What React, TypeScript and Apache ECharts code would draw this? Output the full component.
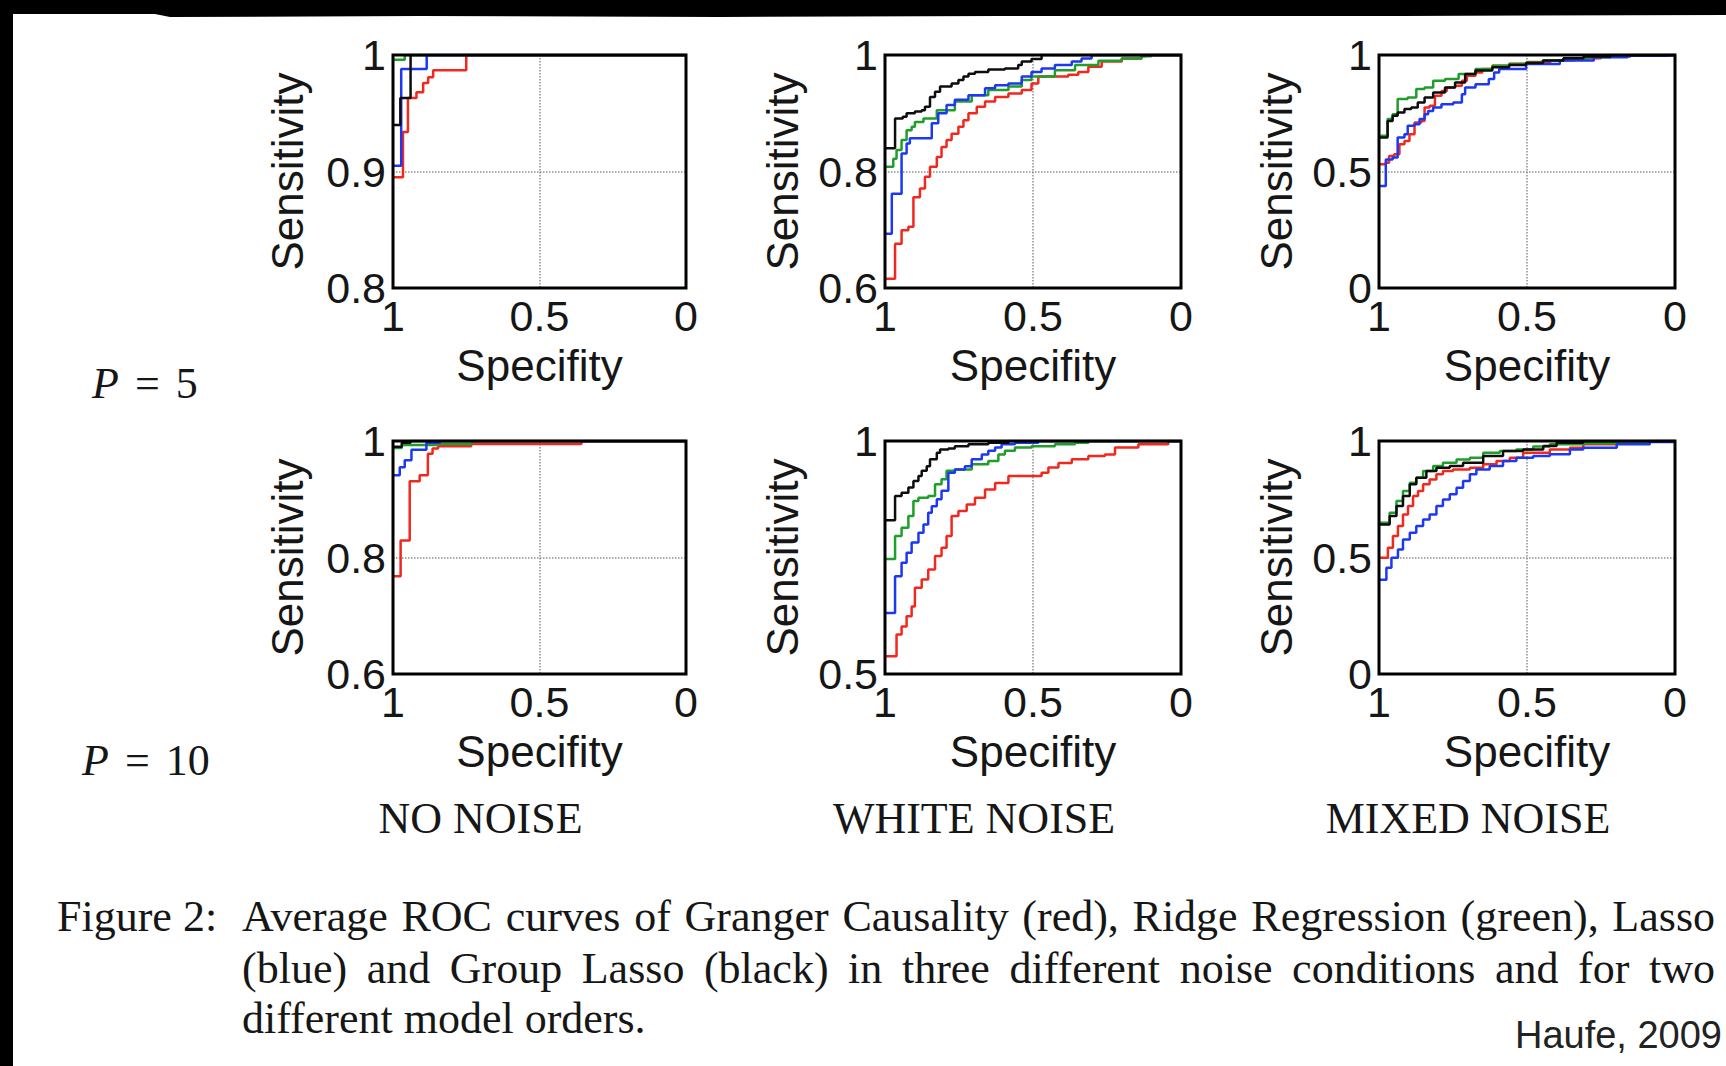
import React, { useEffect, useRef } from "react";
import * as echarts from "echarts";

// ---------------- data ----------------
const columnTitles = ["NO NOISE", "WHITE NOISE", "MIXED NOISE"];
const modelOrders = ["5", "10"];
const methodNames = ["Granger Causality", "Ridge Regression", "Lasso", "Group Lasso"];
const methodColors = ["#f0281e", "#1f9e2a", "#1c38f0", "#0d0d0d"];
const xAxisName = "Specifity";
const yAxisName = "Sensitivity";
const xMin = 0;
const xMax = 1;
const xInterval = 0.5;
const yAxisMin = [0.8, 0.6, 0, 0.6, 0.5, 0];
const yAxisInterval = [0.1, 0.2, 0.5, 0.2, 0.5, 0.5];

// P = 5, no noise  ([specificity, sensitivity])
const p5NoGC = [[1, 0.895], [0.966, 0.934], [0.949, 0.963], [0.92, 0.968], [0.897, 0.976], [0.88, 0.981], [0.863, 0.987], [0.75, 1], [0, 1]];
const p5NoRidge = [[1, 0.996], [0.96, 1], [0, 1]];
const p5NoLasso = [[1, 0.905], [0.972, 0.988], [0.885, 1], [0, 1]];
const p5NoGroup = [[1, 0.94], [0.975, 0.963], [0.94, 1], [0, 1]];

// P = 5, white noise
const p5WhiteGC = [[1, 0.616], [0.966, 0.676], [0.944, 0.699], [0.921, 0.705], [0.904, 0.756], [0.882, 0.771], [0.865, 0.791], [0.848, 0.808], [0.825, 0.825], [0.809, 0.842], [0.792, 0.854], [0.775, 0.865], [0.752, 0.877], [0.735, 0.888], [0.718, 0.9], [0.69, 0.911], [0.662, 0.92], [0.628, 0.928], [0.583, 0.934], [0.538, 0.94], [0.505, 0.951], [0.482, 0.963], [0.381, 0.966], [0.347, 0.971], [0.313, 0.98], [0.268, 0.989], [0.2, 0.994], [0.133, 0.998], [0.12, 1], [0, 1]];
const p5WhiteRidge = [[1, 0.808], [0.972, 0.822], [0.961, 0.837], [0.944, 0.854], [0.927, 0.871], [0.91, 0.877], [0.899, 0.885], [0.87, 0.891], [0.825, 0.905], [0.764, 0.92], [0.707, 0.931], [0.651, 0.94], [0.583, 0.946], [0.538, 0.957], [0.505, 0.963], [0.426, 0.974], [0.358, 0.983], [0.279, 0.99], [0.2, 0.994], [0.133, 0.998], [0.1, 1], [0, 1]];
const p5WhiteLasso = [[1, 0.693], [0.977, 0.762], [0.944, 0.831], [0.927, 0.848], [0.916, 0.857], [0.842, 0.883], [0.82, 0.9], [0.792, 0.914], [0.764, 0.923], [0.718, 0.931], [0.662, 0.943], [0.628, 0.948], [0.583, 0.951], [0.538, 0.963], [0.505, 0.971], [0.471, 0.977], [0.426, 0.983], [0.369, 0.989], [0.336, 0.994], [0.302, 1], [0, 1]];
const p5WhiteGroup = [[1, 0.84], [0.966, 0.891], [0.94, 0.894], [0.927, 0.9], [0.899, 0.903], [0.876, 0.905], [0.865, 0.911], [0.848, 0.928], [0.831, 0.937], [0.814, 0.946], [0.775, 0.951], [0.752, 0.957], [0.735, 0.963], [0.718, 0.968], [0.696, 0.971], [0.651, 0.975], [0.595, 0.977], [0.55, 0.983], [0.538, 0.989], [0.505, 0.993], [0.471, 1], [0, 1]];

// P = 5, mixed noise
const p5MixedGC = [[1, 0.531], [0.977, 0.538], [0.966, 0.567], [0.949, 0.574], [0.931, 0.617], [0.914, 0.631], [0.897, 0.66], [0.88, 0.71], [0.857, 0.717], [0.846, 0.775], [0.829, 0.782], [0.811, 0.825], [0.789, 0.846], [0.771, 0.861], [0.743, 0.868], [0.72, 0.89], [0.703, 0.911], [0.674, 0.925], [0.651, 0.94], [0.617, 0.954], [0.56, 0.962], [0.5, 0.97], [0.42, 0.978], [0.34, 0.986], [0.25, 0.994], [0.15, 1], [0, 1]];
const p5MixedRidge = [[1, 0.653], [0.971, 0.725], [0.954, 0.746], [0.937, 0.811], [0.903, 0.818], [0.874, 0.854], [0.846, 0.861], [0.817, 0.89], [0.777, 0.897], [0.731, 0.918], [0.674, 0.94], [0.617, 0.954], [0.56, 0.961], [0.503, 0.968], [0.446, 0.976], [0.377, 0.983], [0.297, 0.99], [0.217, 0.997], [0.15, 1], [0, 1]];
const p5MixedLasso = [[1, 0.438], [0.977, 0.552], [0.954, 0.56], [0.937, 0.646], [0.914, 0.66], [0.903, 0.696], [0.88, 0.703], [0.863, 0.725], [0.846, 0.746], [0.834, 0.76], [0.817, 0.775], [0.789, 0.789], [0.749, 0.796], [0.72, 0.832], [0.709, 0.861], [0.674, 0.875], [0.629, 0.897], [0.611, 0.925], [0.594, 0.94], [0.503, 0.961], [0.389, 0.976], [0.274, 0.99], [0.16, 0.997], [0.034, 1], [0, 1]];
const p5MixedGroup = [[1, 0.646], [0.971, 0.717], [0.954, 0.739], [0.937, 0.753], [0.914, 0.768], [0.891, 0.775], [0.869, 0.796], [0.846, 0.818], [0.817, 0.839], [0.777, 0.861], [0.743, 0.882], [0.709, 0.918], [0.674, 0.933], [0.617, 0.947], [0.56, 0.957], [0.503, 0.966], [0.446, 0.976], [0.377, 0.986], [0.309, 0.994], [0.217, 1], [0, 1]];

// P = 10, no noise
const p10NoGC = [[1, 0.768], [0.974, 0.829], [0.943, 0.931], [0.909, 0.941], [0.881, 0.978], [0.865, 0.987], [0.846, 0.991], [0.733, 0.995], [0.357, 1], [0, 1]];
const p10NoRidge = [[1, 0.988], [0.97, 0.993], [0.85, 0.995], [0.73, 1], [0, 1]];
const p10NoLasso = [[1, 0.941], [0.977, 0.955], [0.96, 0.967], [0.937, 0.985], [0.886, 0.997], [0.84, 1], [0, 1]];
const p10NoGroup = [[1, 0.99], [0.97, 0.997], [0.94, 1], [0, 1]];

// P = 10, white noise
const p10WhiteGC = [[1, 0.538], [0.961, 0.585], [0.944, 0.602], [0.927, 0.624], [0.91, 0.645], [0.899, 0.685], [0.876, 0.703], [0.854, 0.724], [0.831, 0.753], [0.809, 0.771], [0.792, 0.796], [0.775, 0.839], [0.752, 0.85], [0.724, 0.864], [0.696, 0.878], [0.662, 0.896], [0.628, 0.91], [0.583, 0.925], [0.471, 0.932], [0.448, 0.943], [0.414, 0.953], [0.369, 0.961], [0.313, 0.968], [0.257, 0.971], [0.223, 0.986], [0.144, 0.993], [0.043, 1], [0, 1]];
const p10WhiteRidge = [[1, 0.747], [0.966, 0.796], [0.944, 0.814], [0.921, 0.839], [0.904, 0.871], [0.887, 0.878], [0.854, 0.882], [0.831, 0.907], [0.809, 0.918], [0.792, 0.936], [0.764, 0.939], [0.707, 0.95], [0.651, 0.957], [0.617, 0.971], [0.595, 0.979], [0.561, 0.986], [0.505, 0.989], [0.426, 0.993], [0.358, 0.996], [0.313, 1], [0, 1]];
const p10WhiteLasso = [[1, 0.631], [0.966, 0.71], [0.944, 0.739], [0.927, 0.76], [0.91, 0.782], [0.887, 0.803], [0.87, 0.821], [0.854, 0.846], [0.842, 0.86], [0.825, 0.875], [0.809, 0.893], [0.786, 0.932], [0.764, 0.939], [0.73, 0.946], [0.707, 0.961], [0.673, 0.971], [0.651, 0.979], [0.628, 0.986], [0.606, 0.993], [0.561, 0.996], [0.482, 1], [0, 1]];
const p10WhiteGroup = [[1, 0.83], [0.966, 0.882], [0.944, 0.889], [0.921, 0.9], [0.904, 0.914], [0.887, 0.925], [0.876, 0.936], [0.859, 0.946], [0.848, 0.961], [0.825, 0.975], [0.814, 0.982], [0.786, 0.984], [0.764, 0.989], [0.718, 0.993], [0.651, 0.996], [0.583, 1], [0, 1]];

// P = 10, mixed noise
const p10MixedGC = [[1, 0.499], [0.97, 0.542], [0.953, 0.592], [0.936, 0.635], [0.919, 0.685], [0.902, 0.721], [0.885, 0.764], [0.868, 0.785], [0.851, 0.814], [0.829, 0.835], [0.806, 0.857], [0.784, 0.871], [0.75, 0.878], [0.693, 0.885], [0.648, 0.9], [0.603, 0.914], [0.558, 0.928], [0.513, 0.95], [0.423, 0.964], [0.355, 0.971], [0.31, 0.986], [0.197, 0.993], [0.085, 1], [0, 1]];
const p10MixedRidge = [[1, 0.649], [0.964, 0.692], [0.941, 0.742], [0.919, 0.785], [0.896, 0.821], [0.874, 0.842], [0.851, 0.871], [0.817, 0.893], [0.784, 0.907], [0.738, 0.921], [0.693, 0.928], [0.648, 0.95], [0.592, 0.957], [0.536, 0.964], [0.479, 0.976], [0.423, 0.986], [0.31, 0.99], [0.197, 0.993], [0.096, 1], [0, 1]];
const p10MixedLasso = [[1, 0.405], [0.975, 0.456], [0.958, 0.499], [0.936, 0.534], [0.919, 0.577], [0.896, 0.606], [0.874, 0.635], [0.851, 0.663], [0.829, 0.685], [0.806, 0.721], [0.784, 0.749], [0.761, 0.771], [0.738, 0.799], [0.716, 0.828], [0.693, 0.857], [0.671, 0.878], [0.626, 0.893], [0.581, 0.914], [0.536, 0.928], [0.479, 0.936], [0.423, 0.943], [0.355, 0.964], [0.31, 0.971], [0.197, 0.986], [0.085, 0.996], [0.006, 1], [0, 1]];
const p10MixedGroup = [[1, 0.642], [0.964, 0.678], [0.941, 0.721], [0.919, 0.764], [0.896, 0.814], [0.874, 0.842], [0.84, 0.871], [0.806, 0.885], [0.761, 0.893], [0.716, 0.907], [0.648, 0.936], [0.581, 0.957], [0.513, 0.964], [0.445, 0.979], [0.4, 0.993], [0.31, 1], [0, 1]];

// panels in reading order; each holds the four methods in methodNames order
const panelCurves = [
  [p5NoGC, p5NoRidge, p5NoLasso, p5NoGroup],
  [p5WhiteGC, p5WhiteRidge, p5WhiteLasso, p5WhiteGroup],
  [p5MixedGC, p5MixedRidge, p5MixedLasso, p5MixedGroup],
  [p10NoGC, p10NoRidge, p10NoLasso, p10NoGroup],
  [p10WhiteGC, p10WhiteRidge, p10WhiteLasso, p10WhiteGroup],
  [p10MixedGC, p10MixedRidge, p10MixedLasso, p10MixedGroup],
];

const captionLabel = "Figure 2:";
const captionLines = [
  "Average ROC curves of Granger Causality (red), Ridge Regression (green), Lasso",
  "(blue) and Group Lasso (black) in three different noise conditions and for two",
  "different model orders.",
];
const creditText = "Haufe, 2009";

// ---------------- layout ----------------
const W = 1726;
const H = 1066;
const gridLefts = [393, 885, 1379];
const gridWidths = [293, 296, 296];
const gridTops = [55, 441];
const gridHeight = 233;
const yNameGaps = [84, 81, 81];
const TICK_FS = 43;
const NAME_FS = 44;
const SANS = '"Liberation Sans", Arial, Helvetica, sans-serif';
const SERIF = '"Liberation Serif", "Times New Roman", serif';
const TXT = "#161616";

function buildCaption(): any[] {
  const fontSize = 44;
  const font = `${fontSize}px "Liberation Serif"`;
  const ctx = document.createElement("canvas").getContext("2d") as CanvasRenderingContext2D;
  ctx.font = font;
  const els: any[] = [];
  const left = 242;
  const right = 1715;
  const ys = [916, 968, 1018];
  const txt = (text: string, x: number, y: number) => ({
    type: "text",
    x,
    y,
    silent: true,
    style: { text, fill: TXT, fontSize, fontFamily: SERIF, align: "left", verticalAlign: "middle" },
  });
  els.push(txt(captionLabel, 57, ys[0]));
  captionLines.forEach((line, li) => {
    if (li === captionLines.length - 1) {
      els.push(txt(line, left, ys[li]));
      return;
    }
    const words = line.split(" ");
    const widths = words.map((w) => ctx.measureText(w).width);
    const total = widths.reduce((a, b) => a + b, 0);
    const gap = (right - left - total) / (words.length - 1);
    let x = left;
    words.forEach((w, i) => {
      els.push(txt(w, x, ys[li]));
      x += widths[i] + gap;
    });
  });
  return els;
}

function buildOption(): any {
  const grids: any[] = [];
  const xAxes: any[] = [];
  const yAxes: any[] = [];
  const series: any[] = [];
  panelCurves.forEach((curves, p) => {
    const row = Math.floor(p / 3);
    const col = p % 3;
    grids.push({
      left: gridLefts[col],
      top: gridTops[row],
      width: gridWidths[col],
      height: gridHeight,
      show: true,
      z: 5,
      backgroundColor: "transparent",
      borderColor: "#000",
      borderWidth: 3,
      containLabel: false,
    });
    xAxes.push({
      type: "value",
      gridIndex: p,
      min: xMin,
      max: xMax,
      interval: xInterval,
      inverse: true,
      name: xAxisName,
      nameLocation: "middle",
      nameGap: 55,
      nameTextStyle: { fontSize: NAME_FS, fontFamily: SANS, color: TXT, lineHeight: NAME_FS },
      axisLine: { show: false },
      axisTick: { show: false },
      axisLabel: { fontSize: TICK_FS, fontFamily: SANS, color: TXT, margin: 6, lineHeight: TICK_FS },
      splitLine: { show: true, lineStyle: { type: "dotted", color: "#8f8f8f", width: 1.5 } },
    });
    yAxes.push({
      type: "value",
      gridIndex: p,
      min: yAxisMin[p],
      max: 1,
      interval: yAxisInterval[p],
      name: yAxisName,
      nameLocation: "middle",
      nameGap: yNameGaps[col],
      nameRotate: 90,
      nameTextStyle: { fontSize: NAME_FS, fontFamily: SANS, color: TXT, lineHeight: NAME_FS },
      axisLine: { show: false },
      axisTick: { show: false },
      axisLabel: { fontSize: TICK_FS, fontFamily: SANS, color: TXT, margin: 7 },
      splitLine: { show: true, lineStyle: { type: "dotted", color: "#8f8f8f", width: 1.5 } },
    });
    curves.forEach((data, m) => {
      series.push({
        type: "line",
        name: methodNames[m],
        xAxisIndex: p,
        yAxisIndex: p,
        data,
        step: "end",
        showSymbol: false,
        symbol: "none",
        silent: true,
        z: 2 + m * 0.1,
        lineStyle: { color: methodColors[m], width: 2.5 },
        clip: true,
      });
    });
  });

  const graphic: any[] = [
    { type: "rect", shape: { x: 0, y: 0, width: W, height: 14 }, style: { fill: "#000" }, silent: true },
    {
      type: "polygon",
      shape: { points: [[0, 13], [150, 13], [170, 17], [420, 16], [720, 17], [1000, 16], [1400, 16], [1726, 15], [1726, 0], [0, 0]] },
      style: { fill: "#000" },
      silent: true,
    },
    { type: "rect", shape: { x: 0, y: 0, width: 13, height: H }, style: { fill: "#000" }, silent: true },
  ];
  const titleCenters = gridLefts.map((l, i) => l + gridWidths[i] / 2 - 59);
  columnTitles.forEach((t, i) => {
    graphic.push({
      type: "text",
      x: titleCenters[i],
      y: 818,
      silent: true,
      style: { text: t, fill: TXT, fontSize: 44, fontFamily: SERIF, align: "center", verticalAlign: "middle" },
    });
  });
  const pPos = [
    [92, 383],
    [82, 760],
  ];
  modelOrders.forEach((o, i) => {
    graphic.push({
      type: "text",
      x: pPos[i][0],
      y: pPos[i][1],
      silent: true,
      style: {
        text: `{i|P}{e| = }{n|${o}}`,
        fill: TXT,
        fontSize: 44,
        fontFamily: SERIF,
        align: "left",
        verticalAlign: "middle",
        rich: {
          i: { fontStyle: "italic", fontSize: 44, fontFamily: SERIF, fill: TXT },
          e: { fontSize: 44, fontFamily: SERIF, fill: TXT, padding: [0, 5] },
          n: { fontSize: 44, fontFamily: SERIF, fill: TXT },
        },
      },
    });
  });
  graphic.push(...buildCaption());
  graphic.push({
    type: "text",
    x: 1722,
    y: 1035,
    silent: true,
    style: { text: creditText, fill: "#222", fontSize: 38, fontFamily: SANS, align: "right", verticalAlign: "middle" },
  });

  return {
    animation: false,
    backgroundColor: "#ffffff",
    grid: grids,
    xAxis: xAxes,
    yAxis: yAxes,
    series,
    graphic,
  };
}

export default function App() {
  const ref = useRef<HTMLDivElement>(null);
  useEffect(() => {
    if (!ref.current) return;
    const chart = echarts.init(ref.current, undefined, { renderer: "svg", width: W, height: H });
    chart.setOption(buildOption());
    return () => chart.dispose();
  }, []);
  return (
    <div
      ref={ref}
      style={{ position: "absolute", left: 0, top: 0, width: W, height: H, background: "#fff" }}
    />
  );
}
